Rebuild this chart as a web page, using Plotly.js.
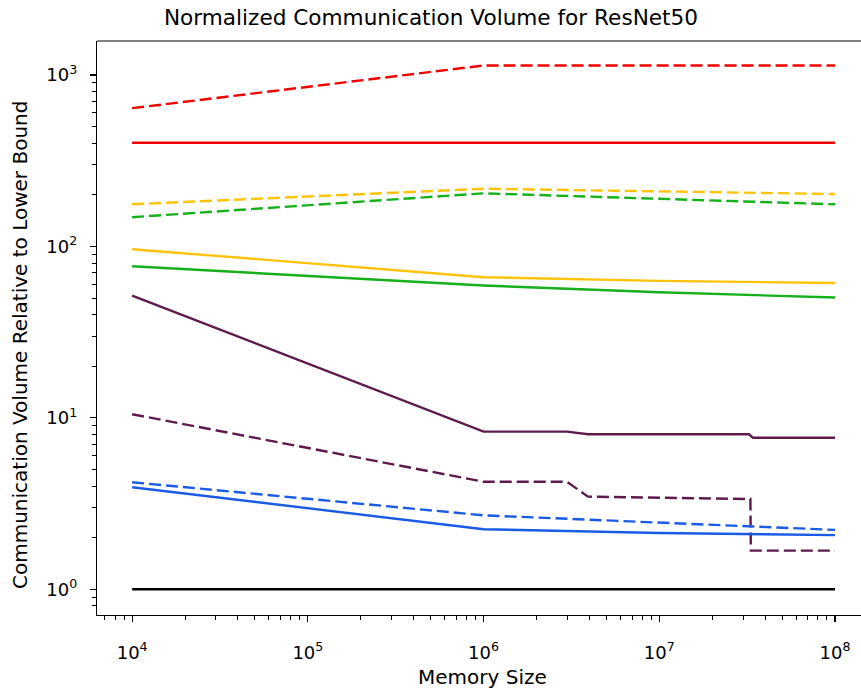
<!DOCTYPE html>
<html>
<head>
<meta charset="utf-8">
<script src="https://cdn.plot.ly/plotly-3.0.1.min.js"></script>
<style>html,body{margin:0;padding:0;background:#fff;}#chart{width:861px;height:693px;}</style>
</head>
<body>
<div id="chart"></div>
<script>
// Memory sizes (x) and normalized communication volumes (y) per series
const redDashedX = [1e4, 1e6, 1e8];
const redDashedY = [640, 1135, 1135];
const redSolidX = [1e4, 1e8];
const redSolidY = [402, 402];
const yellowDashedX = [1e4, 1e6, 1e8];
const yellowDashedY = [176, 217, 202];
const greenDashedX = [1e4, 1e6, 1e8];
const greenDashedY = [148, 204, 176];
const yellowSolidX = [1e4, 1e6, 1e7, 1e8];
const yellowSolidY = [96.3, 66.1, 62.9, 61.2];
const greenSolidX = [1e4, 1e6, 1e7, 1e8];
const greenSolidY = [76.6, 59.1, 54.0, 50.3];
const purpleSolidX = [1e4, 1e6, 2.98e6, 3.93e6, 3.24e7, 3.41e7, 1e8];
const purpleSolidY = [51.6, 8.31, 8.31, 8.02, 8.02, 7.66, 7.66];
const purpleDashedX = [1e4, 1e6, 2.98e6, 3.93e6, 3.3e7, 3.32e7, 1e8];
const purpleDashedY = [10.5, 4.24, 4.24, 3.47, 3.36, 1.68, 1.68];
const blueDashedX = [1e4, 1e6, 1e8];
const blueDashedY = [4.21, 2.70, 2.22];
const blueSolidX = [1e4, 1e6, 1e7, 1e8];
const blueSolidY = [3.94, 2.24, 2.13, 2.07];
const lowerBoundX = [1e4, 1e8];
const lowerBoundY = [1, 1];

const xTickVals = [1e4, 1e5, 1e6, 1e7, 1e8];
const xTickText = ['10<sup>4</sup>', '10<sup>5</sup>', '10<sup>6</sup>', '10<sup>7</sup>', '10<sup>8</sup>'];
const yTickVals = [1, 10, 100, 1000];
const yTickText = ['10<sup>0</sup>', '10<sup>1</sup>', '10<sup>2</sup>', '10<sup>3</sup>'];
const titleText = 'Normalized Communication Volume for ResNet50';
const xLabel = 'Memory Size';
const yLabel = 'Communication Volume Relative to Lower Bound';

const RED = '#f00000', YEL = '#ffc20a', GRN = '#15b01a', PUR = '#5e1a4c', BLU = '#1a5be6';
const DASH = '12px,5px';
function tr(x, y, color, dashed) {
  return {x: x, y: y, type: 'scatter', mode: 'lines', showlegend: false, hoverinfo: 'skip',
    line: {color: color, width: 2.4, dash: dashed ? DASH : 'solid'}};
}
const data = [
  tr(redDashedX, redDashedY, RED, true),
  tr(redSolidX, redSolidY, RED, false),
  tr(yellowDashedX, yellowDashedY, YEL, true),
  tr(greenDashedX, greenDashedY, GRN, true),
  tr(yellowSolidX, yellowSolidY, YEL, false),
  tr(greenSolidX, greenSolidY, GRN, false),
  tr(purpleSolidX, purpleSolidY, PUR, false),
  tr(purpleDashedX, purpleDashedY, PUR, true),
  tr(blueDashedX, blueDashedY, BLU, true),
  tr(blueSolidX, blueSolidY, BLU, false),
  tr(lowerBoundX, lowerBoundY, '#000000', false)
];

const FONT = 'DejaVu Sans, sans-serif';
const L = 97, T = 41, B = 78, W = 861 - L, H = 693 - T - B;
const layout = {
  width: 861, height: 693,
  margin: {l: L, r: 0, t: T, b: B, pad: 0},
  paper_bgcolor: '#ffffff', plot_bgcolor: '#ffffff',
  font: {family: FONT, color: '#000000', size: 18},
  title: {text: titleText, font: {family: FONT, size: 21.6, color: '#000'},
    xref: 'container', yref: 'container', x: 431/861, xanchor: 'center', y: 1 - 17/693, yanchor: 'middle'},
  xaxis: {type: 'log', range: [3.8, 8.148], showline: true, linecolor: '#000', linewidth: 1.2, mirror: false,
    showgrid: false, zeroline: false, ticks: 'outside', ticklen: 6, tickwidth: 1.2, tickcolor: '#000',
    tickmode: 'array', tickvals: xTickVals, ticktext: xTickText, tickfont: {family: FONT, size: 18},
    ticklabelstandoff: 15,
    minor: {dtick: 'D1', ticks: 'outside', ticklen: 3.5, tickwidth: 1, tickcolor: '#000', showgrid: false}},
  yaxis: {type: 'log', range: [-0.150, 3.198], showline: true, linecolor: '#000', linewidth: 1.2, mirror: false,
    showgrid: false, zeroline: false, ticks: 'outside', ticklen: 6, tickwidth: 1.2, tickcolor: '#000',
    tickmode: 'array', tickvals: yTickVals, ticktext: yTickText, tickfont: {family: FONT, size: 18},
    ticklabelstandoff: 9,
    minor: {dtick: 'D1', ticks: 'outside', ticklen: 3.5, tickwidth: 1, tickcolor: '#000', showgrid: false}},
  annotations: [
    {text: xLabel, xref: 'paper', yref: 'paper', x: (482 - L) / W, y: -(677 - (T + H)) / H,
      xanchor: 'center', yanchor: 'middle', showarrow: false, font: {family: FONT, size: 20}},
    {text: yLabel, xref: 'paper', yref: 'paper', x: (20 - L) / W, y: (T + H - 345) / H, textangle: -90,
      xanchor: 'center', yanchor: 'middle', showarrow: false, font: {family: FONT, size: 20}}
  ],
  shapes: [{type: 'line', xref: 'paper', yref: 'paper', x0: 0, x1: 1, y0: 1, y1: 1, line: {color: '#000', width: 1.2}}]
};
Plotly.newPlot('chart', data, layout, {displayModeBar: false, staticPlot: true});
</script>
</body>
</html>
